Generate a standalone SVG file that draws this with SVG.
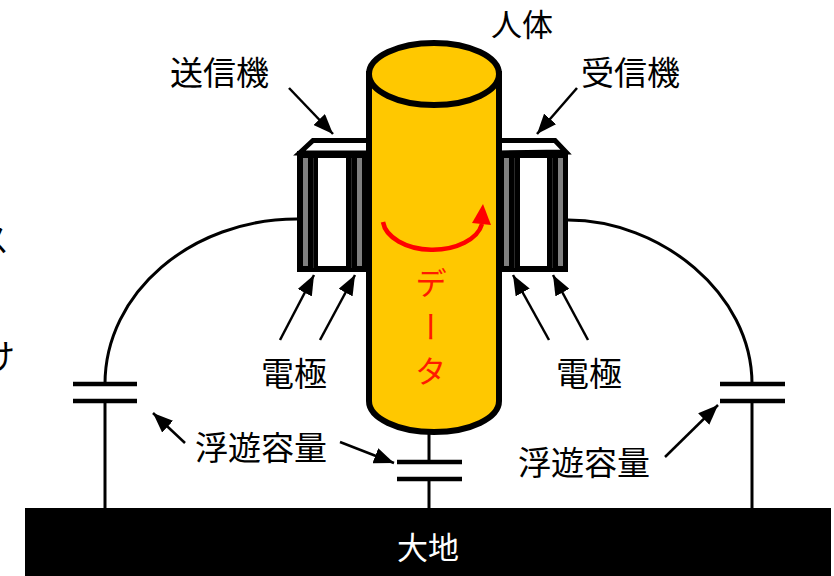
<svg xmlns="http://www.w3.org/2000/svg" width="834" height="576" viewBox="0 0 834 576">
  <style>
    .lbl { font-family: "Noto Sans CJK JP", "Noto Sans", sans-serif; font-size: 33px; fill: #000; }
    .wire { fill: none; stroke: #000; stroke-width: 3; }
    .plate { stroke: #000; stroke-width: 4.5; }
    .arr { stroke: #000; stroke-width: 2.5; fill: none; marker-end: url(#ah); }
    .gray { fill: #808080; }
    .win { fill: #fff; }
    .face { fill: #fff; stroke: #000; stroke-width: 5; stroke-linejoin: miter; }
  </style>
  <defs>
    <marker id="ah" viewBox="0 0 20 16" refX="20" refY="8" markerWidth="20" markerHeight="16" orient="auto" markerUnits="userSpaceOnUse">
      <path d="M0,0 L20,8 L0,16 Z" fill="#000"/>
    </marker>
  </defs>

  <rect width="834" height="576" fill="#fff"/>

  <!-- cut-off text at the left edge -->
  <g id="edge-text">
    <text class="lbl" x="9" y="252" text-anchor="end">ス</text>
    <text class="lbl" x="15" y="368" text-anchor="end">け</text>
  </g>

  <!-- wires and capacitors -->
  <g id="connectors">
    <path class="wire" d="M297,219 C191,219 105,293 105,384"/>
    <line class="wire" x1="105" y1="401" x2="105" y2="508"/>
    <line class="plate" x1="73" y1="384" x2="137" y2="384"/>
    <line class="plate" x1="73" y1="401" x2="137" y2="401"/>

    <path class="wire" d="M568,220 C660,220 752,293 752,384"/>
    <line class="wire" x1="752" y1="401" x2="752" y2="508"/>
    <line class="plate" x1="720" y1="384" x2="785" y2="384"/>
    <line class="plate" x1="720" y1="401" x2="785" y2="401"/>

    <line class="wire" x1="429" y1="432" x2="429" y2="462"/>
    <line class="wire" x1="429" y1="479" x2="429" y2="508"/>
    <line class="plate" x1="397" y1="462" x2="462" y2="462"/>
    <line class="plate" x1="397" y1="479" x2="462" y2="479"/>

    <!-- pointer arrows -->
    <line class="arr" x1="289" y1="88" x2="333" y2="134"/>
    <line class="arr" x1="577" y1="88" x2="537" y2="134"/>
    <line class="arr" x1="280" y1="340" x2="314" y2="275"/>
    <line class="arr" x1="320" y1="340" x2="355" y2="275"/>
    <line class="arr" x1="549" y1="340" x2="513" y2="275"/>
    <line class="arr" x1="588" y1="340" x2="553" y2="275"/>
    <line class="arr" x1="185" y1="443" x2="153" y2="413"/>
    <line class="arr" x1="340" y1="442" x2="394" y2="463"/>
    <line class="arr" x1="665" y1="457" x2="718" y2="405"/>
  </g>

  <!-- transmitter -->
  <g id="transmitter">
    <polygon class="face" points="299.5,153 313,140.5 369,140.5 369,153"/>
    <rect x="297" y="151" width="72" height="121" fill="#000"/>
    <rect class="gray" x="303" y="158" width="5" height="108"/>
    <rect class="win" x="318" y="158" width="28" height="108"/>
    <rect class="gray" x="357" y="158" width="5" height="108"/>
    <line x1="313.5" y1="158" x2="313.5" y2="268" stroke="#2a2a2a" stroke-width="1"/>
    <line x1="351.5" y1="158" x2="351.5" y2="268" stroke="#2a2a2a" stroke-width="1"/>
  </g>

  <!-- receiver -->
  <g id="receiver">
    <polygon class="face" points="499,153 499,140.5 555,140.5 566,152"/>
    <rect x="499" y="151" width="69" height="121" fill="#000"/>
    <rect class="gray" x="504" y="158" width="5" height="108"/>
    <rect class="win" x="520" y="158" width="27" height="108"/>
    <rect class="gray" x="558" y="158" width="5" height="108"/>
    <line x1="514.5" y1="158" x2="514.5" y2="268" stroke="#2a2a2a" stroke-width="1"/>
    <line x1="552.5" y1="158" x2="552.5" y2="268" stroke="#2a2a2a" stroke-width="1"/>
  </g>

  <!-- human body cylinder -->
  <g id="body">
    <path d="M369,74 V401 A65,31 0 0 0 499,401 V74 Z" fill="#FFC800" stroke="#000" stroke-width="6"/>
    <ellipse cx="434" cy="74" rx="65" ry="31" fill="#FFC800" stroke="#000" stroke-width="6"/>
    <path d="M383,222 A50,31 0 0 0 482,224" fill="none" stroke="#FF0000" stroke-width="4.5"/>
    <polygon points="472,223 483,204 491,225" fill="#FF0000"/>
    <text x="431" y="267" style="writing-mode: vertical-rl; letter-spacing: 12px;" font-family="Noto Sans CJK JP, sans-serif" font-size="32" fill="#FF1A00">データ</text>
  </g>

  <!-- ground -->
  <g id="ground">
    <rect x="25" y="508" width="806" height="68" fill="#000"/>
    <text x="428" y="559" text-anchor="middle" font-family="Noto Sans CJK JP, sans-serif" font-size="31" fill="#fff">大地</text>
  </g>

  <!-- labels -->
  <g id="labels">
    <text class="lbl" x="491" y="36" style="font-size:31px">人体</text>
    <text class="lbl" x="170" y="85">送信機</text>
    <text class="lbl" x="581" y="85">受信機</text>
    <text class="lbl" x="261" y="386">電極</text>
    <text class="lbl" x="556" y="386">電極</text>
    <text class="lbl" x="195" y="460">浮遊容量</text>
    <text class="lbl" x="518" y="475">浮遊容量</text>
  </g>
</svg>
